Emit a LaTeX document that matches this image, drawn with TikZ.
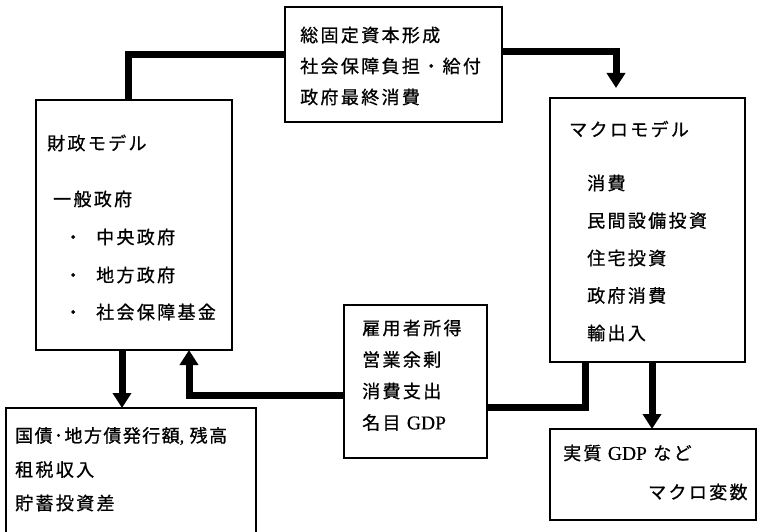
\documentclass[tikz,border=0pt]{standalone}
\usepackage{fontspec}
\newfontfamily\jp[LetterSpace=13, FakeBold=0.8]{Noto Sans CJK JP}
\newfontfamily\jpn[LetterSpace=8, FakeBold=0.8]{Noto Sans CJK JP}
\newfontfamily\lat[FakeBold=0.4]{Liberation Serif}
\usetikzlibrary{arrows.meta}
\tikzset{
  box/.style={draw, line width=1.2pt, inner sep=0pt, outer sep=0pt},
  txt/.style={anchor=west, inner sep=0pt, font=\jp\fontsize{18}{20}\selectfont},
  conn/.style={line width=7pt},
  arr/.style={line width=7pt, -{Triangle[width=18pt,length=15pt]}}
}
\newcommand{\gdp}{{\lat\fontsize{19.5}{20}\selectfont GDP}}
\begin{document}
\begin{tikzpicture}[x=1pt, y=-1pt]
\useasboundingbox (0,0) rectangle (757,532);
% boxes
\node[box, minimum width=217pt, minimum height=115pt] (top) at (393.5,64.5) {};
\node[box, minimum width=196pt, minimum height=250pt] (left) at (134,225) {};
\node[box, minimum width=195pt, minimum height=264pt] (right) at (647.5,230) {};
\node[box, minimum width=143pt, minimum height=153pt] (mid) at (415.5,381.5) {};
\node[box, minimum width=250pt, minimum height=126pt] (botleft) at (131,471) {};
\node[box, minimum width=206pt, minimum height=91pt] (botright) at (653,474.5) {};
% texts: top
\node[txt] (t1) at (300,35) {総固定資本形成};
\node[txt] (t2) at (300,66) {社会保障負担・給付};
\node[txt] (t3) at (300,97) {政府最終消費};
% left
\node[txt] (l1) at (47,143) {財政モデル};
\node[txt] (l2) at (53,199) {一般政府};
\node[txt] (l3) at (64,237) {・\hspace{14pt}中央政府};
\node[txt] (l4) at (64,275) {・\hspace{14pt}地方政府};
\node[txt] (l5) at (64,312) {・\hspace{14pt}社会保障基金};
% right
\node[txt] (r1) at (569,129) {マクロモデル};
\node[txt] (r2) at (587,183) {消費};
\node[txt] (r3) at (587,220.5) {民間設備投資};
\node[txt] (r4) at (587,258) {住宅投資};
\node[txt] (r5) at (587,295.5) {政府消費};
\node[txt] (r6) at (587,333) {輸出入};
% middle
\node[txt] (m1) at (362,328) {雇用者所得};
\node[txt] (m2) at (362,359.5) {営業余剰};
\node[txt] (m3) at (362,391) {消費支出};
\node[txt] (m4) at (362,422.5) {名目 \gdp};
% bottom left
\node[txt, font=\jpn\fontsize{18}{20}\selectfont] (b1) at (15,436) {国債･地方債発行額{\lat ,} 残高};
\node[txt] (b2) at (15,469.5) {租税収入};
\node[txt] (b3) at (15,503) {貯蓄投資差};
% bottom right
\node[txt] (s1) at (563,453) {実質 \gdp{} など};
\node[txt] (s2) at (648,492) {マクロ変数};
% connectors
\coordinate (a1) at ([xshift=92pt]left.north west);
\draw[conn] (a1) |- ([yshift=10pt]top.west);
\coordinate (a2) at ([xshift=-31.5pt]right.north);
\draw[arr, shorten >=10pt] ([yshift=12.5pt]top.east) -| (a2);
\coordinate (a3) at ([xshift=86pt]left.south west);
\draw[arr] (a3) -- (a3 |- botleft.north);
\coordinate (a4) at ([xshift=153pt]left.south west);
\draw[arr] ([yshift=-13.5pt]mid.west) -| (a4);
\coordinate (a5) at ([xshift=35pt]right.south west);
\draw[conn] (a5) |- ([yshift=-25.5pt]mid.east);
\coordinate (a6) at ([xshift=102pt]right.south west);
\draw[arr] (a6) -- (a6 |- botright.north);
\end{tikzpicture}
\end{document}
